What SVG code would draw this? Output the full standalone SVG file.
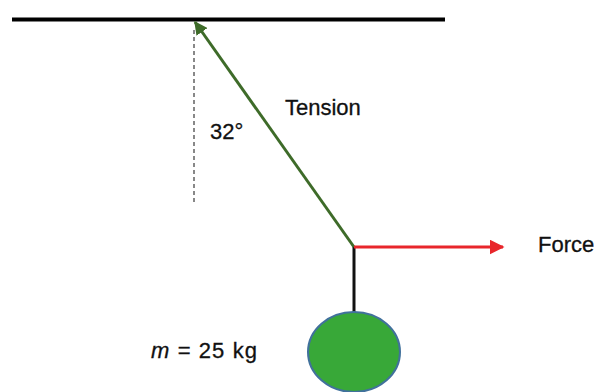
<svg xmlns="http://www.w3.org/2000/svg" width="600" height="392" viewBox="0 0 600 392">
<style>
text{font-family:"Liberation Sans",Arial,sans-serif;font-size:22px;fill:#111;stroke:#111;stroke-width:0.3px}
</style>
<defs>
<marker id="ag" viewBox="0 0 10 10" refX="9" refY="5" markerWidth="4.5" markerHeight="4.5" orient="auto" markerUnits="strokeWidth"><path d="M0,0L10,5L0,10z" fill="#3e6b29"/></marker>
<marker id="ar" viewBox="0 0 10 10" refX="9" refY="5" markerWidth="5" markerHeight="5" orient="auto" markerUnits="strokeWidth"><path d="M0,0L10,5L0,10z" fill="#e8262b"/></marker>
</defs>
<rect width="600" height="392" fill="#fff"/>
<g id="ceiling"><line x1="12" y1="19.5" x2="445" y2="19.5" stroke="#000" stroke-width="4"/></g>
<g id="vertical-ref"><line x1="194" y1="30" x2="194" y2="203" stroke="#888" stroke-width="2" stroke-dasharray="4,3"/></g>
<g id="mass"><line x1="354" y1="247" x2="354" y2="312" stroke="#111" stroke-width="3"/>
<ellipse cx="354" cy="352" rx="46" ry="40" fill="#38a838" stroke="#41719c" stroke-width="2"/></g>
<g id="connectors">
<line x1="354" y1="247" x2="195" y2="22" stroke="#3e6b29" stroke-width="3" marker-end="url(#ag)"/>
<line x1="354" y1="247" x2="503" y2="247" stroke="#e8262b" stroke-width="3" marker-end="url(#ar)"/>
</g>
<g id="labels">
<text x="285" y="115">Tension</text>
<text x="210" y="139">32°</text>
<text x="538" y="252">Force</text>
<text x="151" y="358" textLength="106"><tspan font-style="italic">m</tspan> = 25 kg</text>
</g>
</svg>
